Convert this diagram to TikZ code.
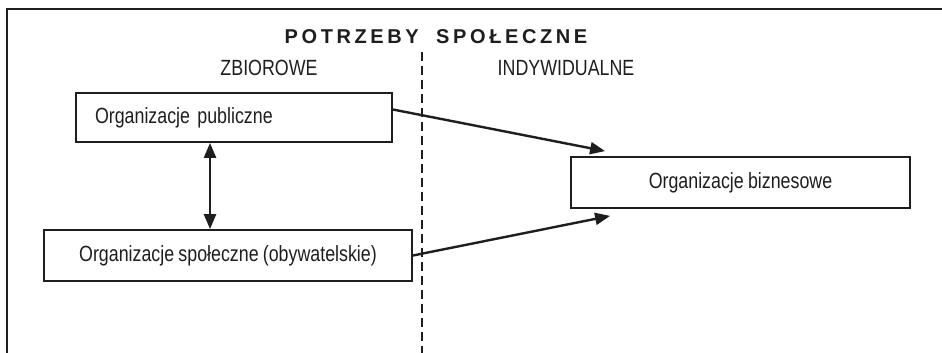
\documentclass[tikz,border=0pt]{standalone}
\usepackage{fontspec}
\setmainfont{Liberation Sans}
\newfontfamily\boxfont[FakeStretch=0.81,WordSpace=0.85]{Liberation Sans}
\newfontfamily\titlefont[LetterSpace=18,WordSpace=1.9]{Liberation Sans Bold}
\usetikzlibrary{arrows.meta}
\definecolor{ink}{RGB}{30,30,30}
\tikzset{
  orgbox/.style={draw=ink, line width=1.8pt, minimum height=50pt, inner ysep=0pt,
    font=\boxfont\fontsize{22}{24}\selectfont, text=ink},
  conn/.style={draw=ink, line width=2.4pt, -{Triangle[length=15pt,width=12pt]}},
  biconn/.style={draw=ink, line width=2.4pt, {Triangle[length=15pt,width=12pt]}-{Triangle[length=15pt,width=12pt]}},
  head/.style={font=\boxfont\fontsize{22}{24}\selectfont, text=ink},
  frameline/.style={draw=ink, line width=2pt},
  divider/.style={draw=ink, line width=2.4pt, dash pattern=on 9pt off 5pt}
}
\begin{document}
\begin{tikzpicture}[x=1pt,y=-1pt]
\useasboundingbox (0,0) rectangle (942,353);
% frame
\coordinate (ftl) at (7,9);
\coordinate (ftr) at (942,9);
\coordinate (fbl) at (7,353);
\draw[frameline] (ftr) -- (ftl) -- (fbl);
% titles
\node[font=\titlefont\fontsize{20}{22}\selectfont, text=ink] (title) at (436,37) {POTRZEBY SPOŁECZNE};
\node[head] (zb) at (269,68) {ZBIOROWE};
\node[head] (ind) at (566,68) {INDYWIDUALNE};
% divider
\coordinate (dtop) at (422,52);
\coordinate (dbot) at (422,353);
\draw[divider] (dtop) -- (dbot);
% boxes
\node[orgbox, minimum width=316pt, text width=278pt, inner xsep=19pt, align=left, minimum height=49pt] (pub) at (234,117.5) {Organizacje publiczne};
\node[orgbox, minimum width=368pt, minimum height=51pt] (soc) at (228,255.5) {Organizacje społeczne (obywatelskie)};
\node[orgbox, minimum width=339pt, minimum height=51pt] (biz) at (740.5,182.5) {Organizacje biznesowe};
% arrows
\coordinate (pubout) at ([yshift=8pt]pub.east);
\coordinate (biztop) at ([xshift=35pt,yshift=5pt]biz.north west);
\coordinate (bizbot) at ([xshift=40pt,yshift=-7pt]biz.south west);
\draw[conn] (pubout) -- (biztop);
\draw[conn] (soc.east) -- (bizbot);
\draw[biconn] (pub.south -| 210,0) -- (soc.north -| 210,0);
\end{tikzpicture}
\end{document}
